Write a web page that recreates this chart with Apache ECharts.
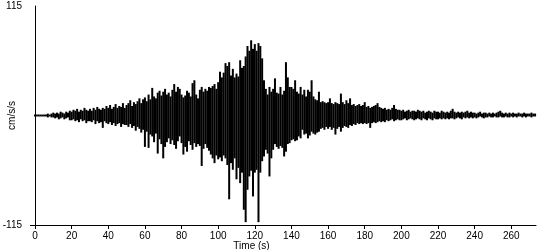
<!DOCTYPE html>
<html>
<head>
<meta charset="utf-8">
<script src="https://cdn.jsdelivr.net/npm/echarts@6/dist/echarts.min.js"></script>
<style>html,body{margin:0;padding:0;background:#fff}#c{width:550px;height:250px}</style>
</head>
<body>
<div id="c"></div>
<script>
// Envelope of the record, one value per second: positive peaks (up) and negative peaks (dn), cm/s/s
const up = [
 1,1,1,1,1,1,1,2,1,2,
 3,2,3,2,4,3,2,4,3,5,
 4,6,5,7,4,6,5,8,6,5,
 7,5,8,6,9,7,6,8,7,10,
 8,11,7,9,12,8,10,9,13,8,
 11,13,16,10,14,12,15,18,13,17,
 19,15,22,17,29,20,18,24,26,21,
 25,28,22,24,20,27,33,25,30,28,
 22,19,21,26,24,20,34,37,22,18,
 27,30,25,28,26,30,29,31,33,28,
 35,46,40,45,55,52,56,42,49,40,
 44,41,58,50,52,62,73,68,79,70,
 75,68,76,73,60,37,28,22,30,25,
 28,39,24,23,30,22,26,56,40,30,
 30,28,37,25,23,30,22,27,20,27,
 25,37,20,17,16,25,14,15,14,13,
 14,18,13,12,14,13,12,23,14,12,
 16,13,18,11,12,10,11,12,10,11,
 14,9,10,8,9,10,11,13,9,8,
 7,8,6,7,6,8,11,7,6,6,
 5,6,4,5,6,4,5,5,4,6,
 5,4,5,3,4,5,4,3,5,4,
 4,3,5,4,3,4,3,5,7,4,
 3,4,3,4,3,4,5,3,4,3,
 3,2,3,4,2,3,3,2,3,2,
 3,2,3,4,5,3,2,3,2,3,
 2,3,2,2,3,2,2,3,2,2,
 2,3,2,2
];
const dn = [
 -1,-1,-1,-1,-1,-1,-1,-2,-1,-2,
 -2,-3,-2,-4,-3,-2,-4,-3,-2,-5,
 -5,-4,-6,-5,-7,-4,-6,-5,-8,-6,
 -6,-7,-5,-9,-6,-8,-7,-13,-6,-8,
 -9,-7,-10,-8,-11,-9,-8,-12,-9,-10,
 -10,-12,-9,-13,-11,-16,-12,-14,-18,-15,
 -33,-17,-34,-20,-22,-28,-19,-40,-25,-30,
 -45,-33,-28,-24,-30,-26,-31,-35,-27,-22,
 -29,-41,-33,-38,-27,-31,-36,-29,-33,-30,
 -32,-53,-35,-30,-34,-37,-41,-45,-50,-42,
 -46,-44,-48,-42,-45,-52,-88,-50,-57,-45,
 -67,-55,-71,-60,-99,-112,-78,-64,-58,-85,
 -60,-57,-112,-60,-48,-43,-36,-40,-64,-45,
 -36,-30,-33,-35,-32,-34,-43,-38,-30,-29,
 -26,-25,-27,-26,-22,-24,-15,-20,-19,-24,
 -21,-17,-19,-20,-18,-17,-14,-13,-15,-12,
 -14,-12,-15,-13,-20,-14,-12,-17,-13,-11,
 -12,-13,-10,-11,-9,-10,-8,-9,-8,-9,
 -8,-9,-8,-13,-8,-7,-8,-7,-6,-7,
 -6,-7,-5,-6,-5,-4,-6,-5,-4,-5,
 -5,-4,-3,-5,-4,-3,-4,-5,-4,-3,
 -4,-5,-3,-4,-5,-3,-4,-5,-3,-4,
 -4,-3,-4,-3,-4,-3,-4,-3,-3,-4,
 -3,-2,-3,-4,-2,-3,-2,-3,-2,-3,
 -2,-3,-2,-1,-2,-3,-2,-2,-1,-2,
 -2,-1,-2,-2,-1,-2,-2,-1,-2,-2,
 -1,-2,-1,-2,-1,-1,-2,-1,-2,-1,
 -1,-2,-1,-1
];
const xTickLabels = [0,20,40,60,80,100,120,140,160,180,200,220,240,260];
const yTickLabels = [-115, 115];
const xMax = 273.5;

const waveData = up.map((v, i) => [i, v, dn[i]]);

const font = 'Liberation Sans, Arial, sans-serif';
const chart = echarts.init(document.getElementById('c'), null, {renderer: 'canvas'});
chart.setOption({
  animation: false,
  backgroundColor: '#fff',
  grid: {left: 35, right: 14, top: 6, bottom: 25, containLabel: false, outerBoundsMode: 'none'},
  xAxis: {
    type: 'value', min: 0, max: xMax, interval: 20,
    name: 'Time (s)', nameLocation: 'middle', nameGap: 16, nameMoveOverlap: false,
    nameTextStyle: {color: '#000', fontSize: 10, fontFamily: font, padding: [0, 68, 0, 0]},
    axisLine: {show: true, onZero: false, lineStyle: {color: '#000', width: 1}},
    axisTick: {show: true, inside: false, length: 4, lineStyle: {color: '#000'}, customValues: xTickLabels},
    axisLabel: {color: '#000', fontSize: 10, fontFamily: font, margin: 6, customValues: xTickLabels},
    splitLine: {show: false}
  },
  yAxis: {
    type: 'value', min: -115, max: 115, interval: 115,
    name: 'cm/s/s', nameLocation: 'middle', nameGap: 18, nameMoveOverlap: false,
    nameTextStyle: {color: '#000', fontSize: 10, fontFamily: font},
    axisLine: {show: true, onZero: false, lineStyle: {color: '#000', width: 1}},
    axisTick: {show: true, length: 5, lineStyle: {color: '#000'}, customValues: [-115]},
    axisLabel: {color: '#000', fontSize: 10, fontFamily: font, margin: 13, customValues: yTickLabels},
    splitLine: {show: false}
  },
  series: [{
    type: 'custom',
    data: waveData,
    encode: {x: 0, y: [1, 2]},
    renderItem: function (params, api) {
      const top = api.coord([api.value(0), api.value(1)]);
      const bot = api.coord([api.value(0), api.value(2)]);
      return {
        type: 'rect',
        shape: {x: top[0] - 1, y: top[1], width: 2, height: Math.max(1, bot[1] - top[1])},
        style: {fill: '#000'}
      };
    }
  }]
});
</script>
</body>
</html>
